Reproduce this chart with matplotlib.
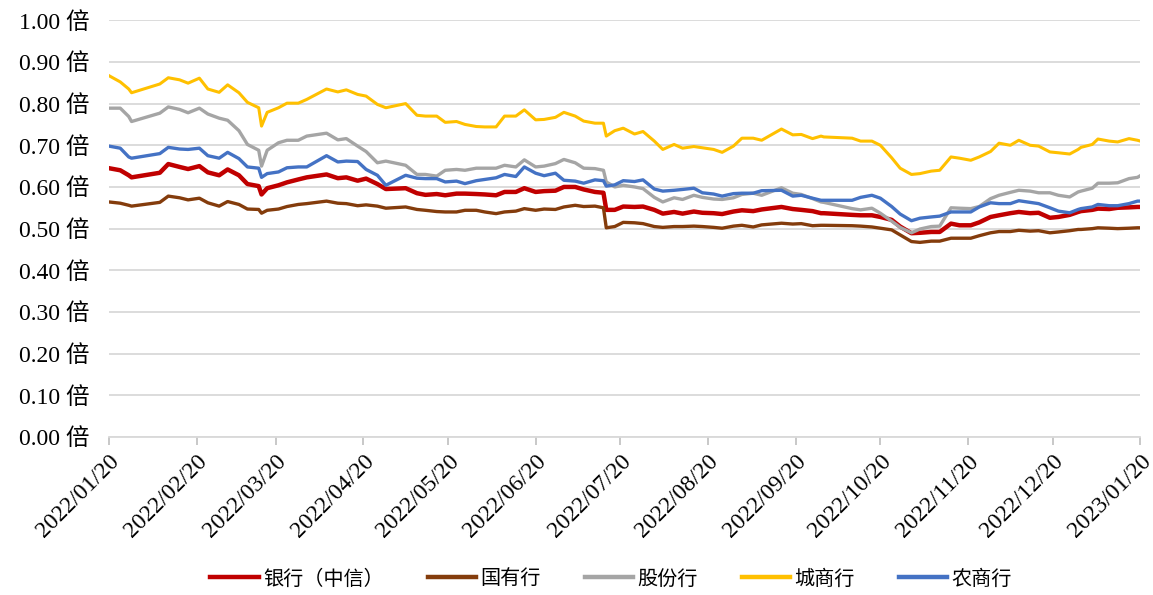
import pandas as pd
import matplotlib
matplotlib.use('Agg')
import matplotlib.pyplot as plt
import matplotlib.dates as mdates

# 交易日（近似每周两个点）
dates = ['2022-01-20', '2022-01-24', '2022-01-27', '2022-01-28', '2022-02-07', '2022-02-10',
         '2022-02-14', '2022-02-17', '2022-02-21', '2022-02-24', '2022-02-28', '2022-03-03',
         '2022-03-07', '2022-03-10', '2022-03-14', '2022-03-15', '2022-03-17', '2022-03-21',
         '2022-03-24', '2022-03-28', '2022-03-31', '2022-04-07', '2022-04-11', '2022-04-14',
         '2022-04-18', '2022-04-21', '2022-04-25', '2022-04-28', '2022-05-05', '2022-05-09',
         '2022-05-12', '2022-05-16', '2022-05-19', '2022-05-23', '2022-05-26', '2022-05-30',
         '2022-06-02', '2022-06-06', '2022-06-09', '2022-06-13', '2022-06-16', '2022-06-20',
         '2022-06-23', '2022-06-27', '2022-06-30', '2022-07-04', '2022-07-07', '2022-07-11',
         '2022-07-14', '2022-07-15', '2022-07-18', '2022-07-21', '2022-07-25', '2022-07-28',
         '2022-08-01', '2022-08-04', '2022-08-08', '2022-08-11', '2022-08-15', '2022-08-18',
         '2022-08-22', '2022-08-25', '2022-08-29', '2022-09-01', '2022-09-05', '2022-09-08',
         '2022-09-15', '2022-09-19', '2022-09-22', '2022-09-26', '2022-09-29', '2022-09-30',
         '2022-10-10', '2022-10-13', '2022-10-17', '2022-10-20', '2022-10-24', '2022-10-27',
         '2022-10-31', '2022-11-03', '2022-11-07', '2022-11-10', '2022-11-14', '2022-11-17',
         '2022-11-21', '2022-11-24', '2022-11-28', '2022-12-01', '2022-12-05', '2022-12-08',
         '2022-12-12', '2022-12-15', '2022-12-19', '2022-12-22', '2022-12-26', '2022-12-29',
         '2022-12-30', '2023-01-03', '2023-01-05', '2023-01-09', '2023-01-12', '2023-01-16',
         '2023-01-19', '2023-01-20']

# PB（倍）
bank_citic = [0.645, 0.640, 0.628, 0.623, 0.634, 0.655, 0.648, 0.643, 0.650, 0.635, 0.628, 0.642,
              0.628, 0.607, 0.602, 0.582, 0.597, 0.604, 0.611, 0.618, 0.623, 0.630, 0.621, 0.623,
              0.615, 0.620, 0.607, 0.595, 0.597, 0.585, 0.581, 0.583, 0.580, 0.584, 0.584, 0.583,
              0.582, 0.580, 0.588, 0.588, 0.597, 0.588, 0.590, 0.591, 0.600, 0.600, 0.594, 0.588,
              0.586, 0.545, 0.545, 0.553, 0.552, 0.553, 0.545, 0.536, 0.540, 0.536, 0.541, 0.538,
              0.537, 0.535, 0.541, 0.544, 0.542, 0.546, 0.552, 0.547, 0.545, 0.542, 0.537, 0.537,
              0.533, 0.532, 0.532, 0.528, 0.521, 0.505, 0.489, 0.490, 0.492, 0.492, 0.512, 0.508,
              0.508, 0.515, 0.528, 0.532, 0.537, 0.540, 0.537, 0.538, 0.526, 0.528, 0.533, 0.540,
              0.542, 0.545, 0.548, 0.547, 0.550, 0.551, 0.552, 0.552]
state_owned = [0.564, 0.561, 0.556, 0.554, 0.563, 0.578, 0.574, 0.569, 0.573, 0.562, 0.554, 0.565,
               0.558, 0.547, 0.546, 0.537, 0.544, 0.547, 0.553, 0.558, 0.560, 0.566, 0.561, 0.560,
               0.555, 0.557, 0.554, 0.549, 0.552, 0.546, 0.544, 0.541, 0.540, 0.540, 0.544, 0.544,
               0.540, 0.536, 0.540, 0.542, 0.548, 0.544, 0.547, 0.546, 0.552, 0.556, 0.553, 0.554,
               0.550, 0.502, 0.505, 0.515, 0.514, 0.512, 0.505, 0.503, 0.505, 0.505, 0.506, 0.505,
               0.503, 0.501, 0.506, 0.508, 0.504, 0.509, 0.513, 0.511, 0.512, 0.507, 0.508, 0.508,
               0.507, 0.506, 0.504, 0.501, 0.497, 0.485, 0.469, 0.467, 0.470, 0.470, 0.477, 0.477,
               0.477, 0.483, 0.490, 0.493, 0.493, 0.496, 0.494, 0.495, 0.490, 0.492, 0.495, 0.498,
               0.498, 0.500, 0.502, 0.501, 0.500, 0.501, 0.502, 0.502]
joint_stock = [0.789, 0.789, 0.769, 0.757, 0.777, 0.792, 0.786, 0.778, 0.789, 0.775, 0.765, 0.760,
               0.735, 0.702, 0.688, 0.650, 0.688, 0.706, 0.712, 0.712, 0.722, 0.729, 0.713, 0.716,
               0.698, 0.685, 0.658, 0.662, 0.652, 0.630, 0.630, 0.626, 0.640, 0.642, 0.640, 0.645,
               0.645, 0.645, 0.652, 0.648, 0.665, 0.648, 0.650, 0.656, 0.666, 0.658, 0.645, 0.644,
               0.640, 0.612, 0.600, 0.604, 0.600, 0.596, 0.575, 0.564, 0.574, 0.570, 0.580, 0.575,
               0.571, 0.570, 0.574, 0.582, 0.585, 0.580, 0.598, 0.585, 0.582, 0.572, 0.564, 0.563,
               0.548, 0.545, 0.549, 0.537, 0.518, 0.503, 0.490, 0.499, 0.505, 0.506, 0.550, 0.549,
               0.548, 0.553, 0.572, 0.580, 0.587, 0.592, 0.590, 0.586, 0.586, 0.580, 0.576, 0.588,
               0.590, 0.597, 0.609, 0.609, 0.610, 0.620, 0.623, 0.627]
city_comm = [0.867, 0.852, 0.835, 0.826, 0.847, 0.862, 0.857, 0.849, 0.861, 0.835, 0.827, 0.845,
             0.826, 0.803, 0.790, 0.746, 0.779, 0.790, 0.801, 0.801, 0.810, 0.835, 0.828, 0.833,
             0.822, 0.818, 0.798, 0.790, 0.800, 0.772, 0.770, 0.770, 0.755, 0.757, 0.750, 0.745,
             0.744, 0.744, 0.770, 0.770, 0.785, 0.761, 0.762, 0.767, 0.779, 0.770, 0.758, 0.753,
             0.753, 0.722, 0.735, 0.741, 0.727, 0.733, 0.710, 0.690, 0.702, 0.693, 0.697, 0.694,
             0.690, 0.683, 0.698, 0.717, 0.717, 0.712, 0.739, 0.725, 0.726, 0.716, 0.722, 0.720,
             0.717, 0.710, 0.710, 0.700, 0.670, 0.645, 0.630, 0.632, 0.638, 0.640, 0.672, 0.669,
             0.664, 0.672, 0.685, 0.705, 0.700, 0.712, 0.700, 0.698, 0.684, 0.682, 0.679, 0.690,
             0.695, 0.702, 0.715, 0.710, 0.708, 0.716, 0.712, 0.710]
rural_comm = [0.698, 0.693, 0.672, 0.669, 0.680, 0.695, 0.691, 0.690, 0.693, 0.675, 0.669, 0.683,
              0.668, 0.648, 0.645, 0.623, 0.632, 0.636, 0.646, 0.648, 0.648, 0.675, 0.660, 0.662,
              0.661, 0.642, 0.628, 0.604, 0.628, 0.621, 0.620, 0.620, 0.612, 0.614, 0.608, 0.615,
              0.618, 0.622, 0.630, 0.625, 0.648, 0.633, 0.627, 0.633, 0.616, 0.614, 0.609, 0.617,
              0.615, 0.602, 0.605, 0.615, 0.613, 0.617, 0.595, 0.590, 0.592, 0.594, 0.597, 0.586,
              0.583, 0.578, 0.584, 0.585, 0.585, 0.591, 0.592, 0.578, 0.580, 0.573, 0.568, 0.568,
              0.568, 0.575, 0.580, 0.573, 0.553, 0.535, 0.519, 0.525, 0.528, 0.530, 0.540, 0.540,
              0.540, 0.552, 0.562, 0.560, 0.560, 0.567, 0.563, 0.560, 0.550, 0.542, 0.538, 0.546,
              0.548, 0.552, 0.558, 0.555, 0.555, 0.560, 0.566, 0.566]

names = ['银行（中信）', '国有行', '股份行', '城商行', '农商行']
colors = ['#C00000', '#843C0C', '#A5A5A5', '#FFC000', '#4472C4']
widths = [3.2, 2.4, 2.4, 2.2, 2.4]

plt.rcParams['font.family'] = ['Liberation Serif', 'Noto Sans CJK SC']

x = pd.to_datetime(dates)
fig = plt.figure(figsize=(11.53, 5.95), dpi=100)
ax = fig.add_axes([0.0945, 0.2655, 0.8945, 0.7005])

for s, n, c, w in zip([bank_citic, state_owned, joint_stock, city_comm, rural_comm], names, colors, widths):
    ax.plot(x, s, color=c, lw=w, label=n, solid_joinstyle='round')

ax.set_ylim(0, 1.0)
ax.set_yticks([i / 10 for i in range(11)])
ax.set_yticklabels(['%.2f 倍' % (i / 10) for i in range(11)], fontsize=17)
ax.yaxis.grid(True, color='#D9D9D9', lw=1.3)
ax.set_axisbelow(True)
ax.tick_params(axis='y', length=0, pad=14)

months = pd.date_range('2022-01-20', periods=13, freq=pd.DateOffset(months=1))
ax.set_xlim(months[0], months[-1])
ax.set_xticks(months)
ax.xaxis.set_major_formatter(mdates.DateFormatter('%Y/%m/%d'))
ax.tick_params(axis='x', length=6, color='#BFBFBF', width=1.2, pad=4)
for lab in ax.get_xticklabels():
    lab.set_rotation(45)
    lab.set_ha('right')
    lab.set_rotation_mode('anchor')
    lab.set_fontsize(17)

for sp in ['top', 'right', 'left']:
    ax.spines[sp].set_visible(False)
ax.spines['bottom'].set_color('#D9D9D9')
ax.spines['bottom'].set_linewidth(1.3)

leg = fig.legend(loc='center', bbox_to_anchor=(0.53, 0.027), ncol=5, frameon=False,
                 prop={'family': ['Noto Sans CJK SC'], 'size': 14.5},
                 handlelength=2.4, columnspacing=2.2, handletextpad=0.2)
for ln in leg.get_lines():
    ln.set_linewidth(3.2)

fig.savefig('out.png', dpi=100)
